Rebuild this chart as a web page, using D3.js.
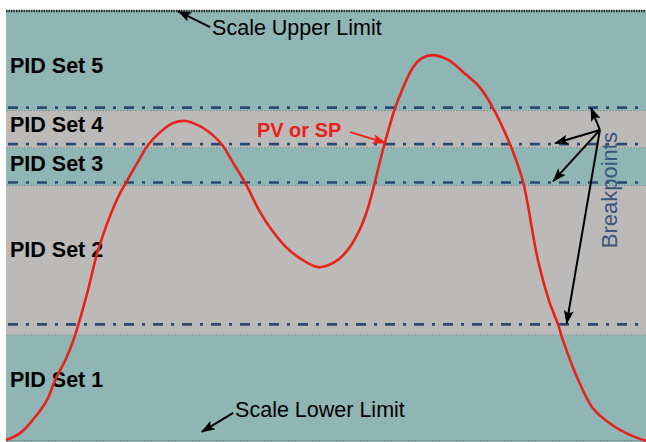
<!DOCTYPE html>
<html>
<head>
<meta charset="utf-8">
<script src="https://cdn.jsdelivr.net/npm/d3@7"></script>
<style>
  html, body { margin: 0; padding: 0; background: #fff; }
  svg { display: block; }
  text { font-family: "Liberation Sans", Arial, Helvetica, sans-serif; }
</style>
</head>
<body>
<svg id="chart" width="646" height="442"></svg>
<script>
// ---- data (x: time 0..100, y: % of scale 0..100) ----
const bandNames = ["PID Set 1", "PID Set 2", "PID Set 3", "PID Set 4", "PID Set 5"];
const bandEdges = [0, 24.4, 59.2, 68.0, 76.6, 100];
const bandLabelY = [12.3, 42.6, 62.6, 71.6, 85.3];
const breakpoints = [26.9, 59.9, 68.8, 77.3];
const scaleLimits = [0, 100];

const curveX = [0, 2.2, 4.2, 6.4, 7.7, 9.5, 10.8, 12.7, 14.4, 17.3, 18.8, 20.5, 22.2, 24.1, 26.1, 28.0,
  30.3, 32.3, 33.8, 35.5, 37.3, 39.7, 41.3, 43.6, 45.9, 48.8, 51.4, 53.4, 55.0, 56.3, 57.2, 58.1,
  59.1, 60.8, 61.9, 63.6, 65.0, 66.6, 69.1, 71.4, 74.1, 76.1, 78.8, 80.8, 81.4, 83.1, 84.8, 86.3,
  87.0, 89.4, 91.7, 94.7, 97.5, 100];
const curveY = [0, 1.6, 4.7, 9.3, 14.0, 19.3, 24.4, 34.2, 44.2, 55.8, 60.0, 64.4, 68.6, 71.6, 73.7, 74.2,
  73.0, 70.9, 68.6, 64.4, 60.0, 53.0, 49.3, 45.1, 42.3, 40.2, 41.4, 44.2, 48.1, 52.8, 57.4, 62.8,
  68.6, 77.2, 81.4, 86.7, 88.8, 89.5, 88.4, 85.6, 81.9, 77.2, 68.6, 60.0, 55.8, 41.9, 32.6, 26.7,
  23.3, 14.0, 7.4, 3.5, 1.2, -0.2];

// annotations
const limitLabels = ["Scale Upper Limit", "Scale Lower Limit"];
const limitTextX = [32.2, 35.8];
const limitTextY = [94.3, 5.3];
const limitArrowFrom = [[31.9, 96.0], [35.5, 6.3]];
const limitArrowTo = [[26.9, 99.7], [30.6, 1.9]];

const pvLabel = "PV or SP";
const pvTextPos = [39.2, 70.5];
const pvArrowFrom = [53.8, 71.6];
const pvArrowTo = [59.3, 69.1];

const bpLabel = "Breakpoints";
const bpTextPos = [95.4, 44.6];
const bpArrowFrom = [92.8, 72.1];
const bpArrowTo = [[91.4, 77.2], [85.8, 69.0], [85.5, 60.2], [87.6, 27.1]];

// ---- drawing ----
const svg = d3.select("#chart");
const W = 646, H = 442;
const x = d3.scaleLinear().domain([0, 100]).range([6, 646]);
const y = d3.scaleLinear().domain([0, 100]).range([440, 10]);

const TEAL = "#8fb5b5", GREY = "#bcbab9";

const defs = svg.append("defs");
function marker(id, color) {
  defs.append("marker")
    .attr("id", id).attr("viewBox", "0 0 14 10")
    .attr("refX", 13).attr("refY", 5)
    .attr("markerWidth", 14).attr("markerHeight", 10)
    .attr("markerUnits", "userSpaceOnUse")
    .attr("orient", "auto")
    .append("path").attr("d", "M0,0 L14,5 L0,10 L3,5 Z").attr("fill", color);
}
marker("arrK", "#000");
marker("arrR", "#e8211b");

// bands
const bands = bandNames.map((n, i) => ({name: n, lo: bandEdges[i], hi: bandEdges[i + 1], i}));
svg.append("g").selectAll("rect").data(bands).join("rect")
  .attr("x", x(0)).attr("width", x(100) - x(0))
  .attr("y", d => y(d.hi))
  .attr("height", d => (d.i === 0 ? H : y(d.lo)) - y(d.hi))
  .attr("fill", d => d.i % 2 === 0 ? TEAL : GREY);

// thin band borders
svg.append("g").selectAll("line").data(bandEdges.slice(1, -1)).join("line")
  .attr("x1", x(0)).attr("x2", x(100))
  .attr("y1", d => y(d)).attr("y2", d => y(d))
  .attr("stroke", "#7d8a8a").attr("stroke-width", 1).attr("stroke-dasharray", "2,1").attr("opacity", 0.8);

// scale limit lines
svg.append("line").attr("x1", x(0)).attr("x2", x(100))
  .attr("y1", y(scaleLimits[1]) + 1).attr("y2", y(scaleLimits[1]) + 1)
  .attr("stroke", "#2a2a2a").attr("stroke-width", 2.4).attr("stroke-dasharray", "1.5,1");
svg.append("line").attr("x1", x(0)).attr("x2", x(100))
  .attr("y1", y(scaleLimits[0]) + 0.5).attr("y2", y(scaleLimits[0]) + 0.5)
  .attr("stroke", "#7d8a8a").attr("stroke-width", 1).attr("stroke-dasharray", "2,1");

// breakpoint lines
svg.append("g").selectAll("line").data(breakpoints).join("line")
  .attr("x1", x(0)).attr("x2", x(100))
  .attr("y1", d => y(d)).attr("y2", d => y(d))
  .attr("stroke", "#2c4a70").attr("stroke-width", 2.6)
  .attr("stroke-dasharray", "10,8,3,8").attr("stroke-dashoffset", 27);

// band labels
svg.append("g").selectAll("text").data(bands).join("text")
  .attr("x", 10).attr("y", d => y(bandLabelY[d.i]))
  .attr("font-size", 21.5).attr("font-weight", "bold").attr("fill", "#000")
  .text(d => d.name);

// curve
const pts = curveX.map((v, i) => [v, curveY[i]]);
svg.append("path").datum(pts)
  .attr("fill", "none").attr("stroke", "#e8211b").attr("stroke-width", 2.6)
  .attr("d", d3.line().x(d => x(d[0])).y(d => y(d[1])).curve(d3.curveCatmullRom.alpha(0.5)));

// limit labels + arrows
limitLabels.forEach((t, i) => {
  svg.append("line")
    .attr("x1", x(limitArrowFrom[i][0])).attr("y1", y(limitArrowFrom[i][1]))
    .attr("x2", x(limitArrowTo[i][0])).attr("y2", y(limitArrowTo[i][1]))
    .attr("stroke", "#000").attr("stroke-width", 2).attr("marker-end", "url(#arrK)");
  svg.append("text").attr("x", x(limitTextX[i])).attr("y", y(limitTextY[i]))
    .attr("font-size", 21.5).attr("fill", "#000").text(t);
});

// PV or SP
svg.append("text").attr("x", x(pvTextPos[0])).attr("y", y(pvTextPos[1]))
  .attr("font-size", 20).attr("font-weight", "bold").attr("fill", "#e8211b").text(pvLabel);
svg.append("line")
  .attr("x1", x(pvArrowFrom[0])).attr("y1", y(pvArrowFrom[1]))
  .attr("x2", x(pvArrowTo[0])).attr("y2", y(pvArrowTo[1]))
  .attr("stroke", "#e8211b").attr("stroke-width", 2).attr("marker-end", "url(#arrR)");

// Breakpoints
svg.append("g").selectAll("line").data(bpArrowTo).join("line")
  .attr("x1", x(bpArrowFrom[0])).attr("y1", y(bpArrowFrom[1]))
  .attr("x2", d => x(d[0])).attr("y2", d => y(d[1]))
  .attr("stroke", "#000").attr("stroke-width", 2).attr("marker-end", "url(#arrK)");
svg.append("text")
  .attr("transform", `translate(${x(bpTextPos[0])},${y(bpTextPos[1])}) rotate(-90)`)
  .attr("font-size", 22).attr("fill", "#3b5679").text(bpLabel);
</script>
</body>
</html>
